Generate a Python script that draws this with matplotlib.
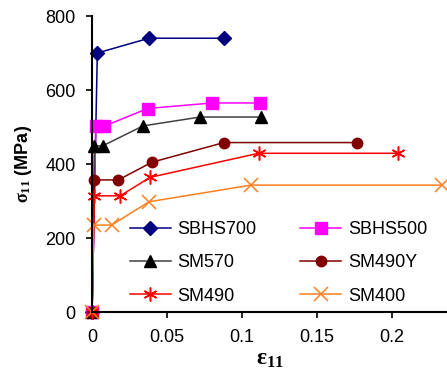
import matplotlib.pyplot as plt

plt.rcParams['font.family'] = ['Liberation Sans', 'DejaVu Sans']
plt.rcParams['mathtext.fontset'] = 'custom'
plt.rcParams['mathtext.rm'] = 'Liberation Serif'
plt.rcParams['mathtext.it'] = 'Liberation Serif'
plt.rcParams['mathtext.bf'] = 'Liberation Serif:bold'

# strain / stress values
sbhs700_x = [0, 0.0035, 0.038, 0.088]
sbhs700_y = [0, 700, 740, 740]
sbhs500_x = [0, 0.0025, 0.008, 0.037, 0.080, 0.112]
sbhs500_y = [0, 502, 502, 550, 565, 565]
sm570_x = [0, 0.0015, 0.007, 0.034, 0.072, 0.1125]
sm570_y = [0, 449, 449, 503, 527, 527]
sm490y_x = [0, 0.0015, 0.0175, 0.040, 0.088, 0.177]
sm490y_y = [0, 357, 357, 405, 458, 458]
sm490_x = [0, 0.0015, 0.0187, 0.0387, 0.111, 0.204]
sm490_y = [0, 314, 314, 364, 429, 429]
sm400_x = [0, 0.001, 0.013, 0.038, 0.106, 0.2335]
sm400_y = [0, 235, 235, 298, 343, 343]

fig = plt.figure(figsize=(4.47, 3.81), dpi=100)
ax = fig.add_axes([0.206, 0.181, 0.794, 0.777])

asterisk = (6, 2, 0)
h1, = ax.plot(sbhs700_x, sbhs700_y, color='#000080', marker='D', ms=7, lw=1.1, clip_on=False, label='SBHS700')
h2, = ax.plot(sbhs500_x, sbhs500_y, color='#FF00FF', marker='s', ms=8, lw=1.1, clip_on=False, label='SBHS500')
h3, = ax.plot(sm570_x, sm570_y, color='#404040', marker='^', ms=8, mfc='black', mec='black', lw=1.1, clip_on=False, label='SM570')
h4, = ax.plot(sm490y_x, sm490y_y, color='#800000', marker='o', ms=7.5, lw=1.1, clip_on=False, label='SM490Y')
h5, = ax.plot(sm490_x, sm490_y, color='#FF0000', marker=asterisk, ms=10, mew=1.1, lw=1.1, clip_on=False, label='SM490')
h6, = ax.plot(sm400_x, sm400_y, color='#FF7F1E', marker='x', ms=10, mew=1.1, lw=1.1, clip_on=False, label='SM400')

ax.set_xlim(0, 0.2367)
ax.set_ylim(0, 800)
ax.set_xticks([0, 0.05, 0.1, 0.15, 0.2])
ax.set_xticklabels(['0', '0.05', '0.1', '0.15', '0.2'])
ax.set_yticks([0, 200, 400, 600, 800])
ax.tick_params(labelsize=13, length=4, width=1.2, pad=8)

for s in ['top', 'right']:
    ax.spines[s].set_visible(False)
for s in ['left', 'bottom']:
    ax.spines[s].set_linewidth(1.5)

ax.set_xlabel(r'$\mathbf{\varepsilon_{11}}$', fontsize=17, labelpad=2)
ax.set_ylabel(r'$\mathbf{\sigma_{11}}$ (MPa)', fontsize=13, fontweight='bold', labelpad=8)

ax.legend(handles=[h1, h3, h5, h2, h4, h6], ncol=2, frameon=False, fontsize=13,
          loc='lower left', bbox_to_anchor=(0.06, -0.03), handlelength=2.3,
          columnspacing=2.4, labelspacing=0.9, handletextpad=0.35)

fig.savefig('out.png', dpi=100)
